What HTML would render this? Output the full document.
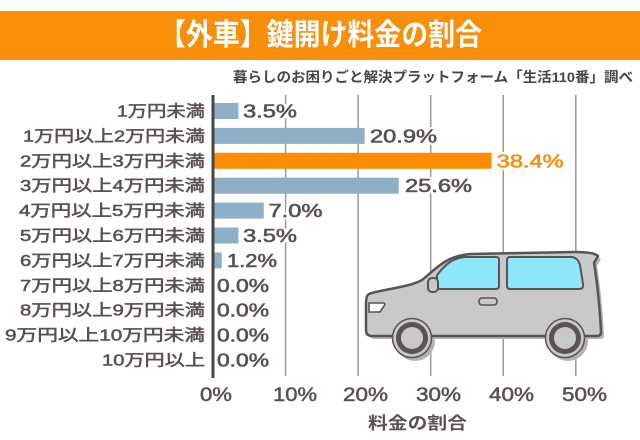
<!DOCTYPE html>
<html><head><meta charset="utf-8"><style>
html,body{margin:0;padding:0;background:#fff;}
svg{display:block;}
text{font-family:"Liberation Sans","Noto Sans CJK JP",sans-serif;}
</style></head><body>
<svg width="640" height="440" viewBox="0 0 640 440" xmlns="http://www.w3.org/2000/svg">
<rect x="0" y="0" width="640" height="440" fill="#fff"/>
<!-- title band -->
<rect x="0" y="11" width="640" height="49" fill="#F98E0A"/>
<text x="159" y="45" font-size="30" font-weight="bold" fill="#fff" textLength="323" lengthAdjust="spacingAndGlyphs">【外車】鍵開け料金の割合</text>
<text x="233" y="82" font-size="14" font-weight="bold" fill="#4a4444" textLength="400" lengthAdjust="spacingAndGlyphs">暮らしのお困りごと解決プラットフォーム「生活110番」調べ</text>

<!-- gridlines -->
<g stroke="#9a9a9a" stroke-width="1.5">
<line x1="285.6" y1="95" x2="285.6" y2="376"/>
<line x1="358.1" y1="95" x2="358.1" y2="376"/>
<line x1="430.7" y1="95" x2="430.7" y2="376"/>
<line x1="503.2" y1="95" x2="503.2" y2="376"/>
<line x1="575.8" y1="95" x2="575.8" y2="376"/>
</g>

<!-- car -->
<g>
<g transform="translate(3,3)" fill="#b3b3b3">
<path d="M372 293 C385 289 410 287 422 280 C435 270 445 256 470 254 L575 252 C585 252 595 253 598 256 L594 263 C597 280 600 310 601 332 Q601 336 597 336 L372 336 Q366 336 366 330 L366 305 C366 296 367 294 372 293 Z"/>
<circle cx="412" cy="338" r="20"/>
<circle cx="565" cy="338" r="20"/>
</g>
<path d="M372 293 C385 289 410 287 422 280 C435 270 445 256 470 254 L575 252 C585 252 595 253 598 256 L594 263 C597 280 600 310 601 332 Q601 336 597 336 L372 336 Q366 336 366 330 L366 305 C366 296 367 294 372 293 Z" fill="#c9c9c9" stroke="#5b5353" stroke-width="2.5" stroke-linejoin="round"/>
<path d="M437 275 C445 265 452 258 465 257 L496 257 Q499 257 499 260 L499 286 Q499 289 496 289 L440 289 Q437 289 437 286 Z" fill="#8ee6fb" stroke="#5b5353" stroke-width="2"/>
<path d="M510 257 L572 257 Q578 258 580 265 L583 284 Q584 289 579 289 L510 289 Q507 289 507 286 L507 260 Q507 257 510 257 Z" fill="#8ee6fb" stroke="#5b5353" stroke-width="2"/>
<rect x="428" y="278" width="10" height="14" rx="4" fill="#c9c9c9" stroke="#5b5353" stroke-width="2"/>
<rect x="479" y="298" width="18" height="7" rx="3" fill="#c9c9c9" stroke="#5b5353" stroke-width="1.6"/>
<path d="M369 303 L383 303 Q386 303 384 306 L380 312 L369 312 Z" fill="#fff" stroke="#5b5353" stroke-width="1.6"/>
<circle cx="412" cy="338" r="19.5" fill="#c9c9c9" stroke="#5b5353" stroke-width="1.5"/>
<circle cx="412" cy="338" r="16" fill="#5b5353"/>
<circle cx="412" cy="338" r="11" fill="#c9c9c9"/>
<circle cx="565" cy="338" r="19.5" fill="#c9c9c9" stroke="#5b5353" stroke-width="1.5"/>
<circle cx="565" cy="338" r="16" fill="#5b5353"/>
<circle cx="565" cy="338" r="11" fill="#c9c9c9"/>
</g>

<!-- bars -->
<g fill="#8EAFC8">
<rect x="213" y="103" width="25.4" height="16"/>
<rect x="213" y="127.9" width="151.6" height="16"/>
<rect x="213" y="177.7" width="185.7" height="16"/>
<rect x="213" y="202.6" width="50.8" height="16"/>
<rect x="213" y="227.5" width="25.4" height="16"/>
<rect x="213" y="252.4" width="8.7" height="16"/>
</g>
<rect x="213" y="152.8" width="278.6" height="16" fill="#FD8C00"/>

<!-- axis -->
<line x1="213" y1="95" x2="213" y2="378" stroke="#4a4444" stroke-width="3"/>

<!-- category labels -->
<g font-size="16" fill="#595050" stroke="#595050" stroke-width="0.5" text-anchor="end">
<text x="205" y="116.5" textLength="88" lengthAdjust="spacingAndGlyphs">1万円未満</text>
<text x="205" y="141.4" textLength="182" lengthAdjust="spacingAndGlyphs">1万円以上2万円未満</text>
<text x="205" y="166.3" textLength="185" lengthAdjust="spacingAndGlyphs">2万円以上3万円未満</text>
<text x="205" y="191.2" textLength="185" lengthAdjust="spacingAndGlyphs">3万円以上4万円未満</text>
<text x="205" y="216.1" textLength="186" lengthAdjust="spacingAndGlyphs">4万円以上5万円未満</text>
<text x="205" y="241" textLength="185" lengthAdjust="spacingAndGlyphs">5万円以上6万円未満</text>
<text x="205" y="265.9" textLength="185" lengthAdjust="spacingAndGlyphs">6万円以上7万円未満</text>
<text x="205" y="290.8" textLength="185" lengthAdjust="spacingAndGlyphs">7万円以上8万円未満</text>
<text x="205" y="315.7" textLength="185" lengthAdjust="spacingAndGlyphs">8万円以上9万円未満</text>
<text x="205" y="340.6" textLength="200" lengthAdjust="spacingAndGlyphs">9万円以上10万円未満</text>
<text x="205" y="365.5" textLength="103" lengthAdjust="spacingAndGlyphs">10万円以上</text>
</g>

<!-- value label halos -->
<g font-size="18" fill="#fff" stroke="#fff" stroke-width="5" stroke-linejoin="round">
<text x="243" y="117.5" textLength="54" lengthAdjust="spacingAndGlyphs">3.5%</text>
<text x="370" y="142.4" textLength="67" lengthAdjust="spacingAndGlyphs">20.9%</text>
<text x="496.7" y="167.3" textLength="67" lengthAdjust="spacingAndGlyphs">38.4%</text>
<text x="405" y="192.2" textLength="67" lengthAdjust="spacingAndGlyphs">25.6%</text>
<text x="268.5" y="217.1" textLength="54" lengthAdjust="spacingAndGlyphs">7.0%</text>
<text x="243" y="242" textLength="54" lengthAdjust="spacingAndGlyphs">3.5%</text>
<text x="227" y="266.9" textLength="50" lengthAdjust="spacingAndGlyphs">1.2%</text>
</g>
<!-- value labels -->
<g font-size="18" fill="#595050" stroke="#595050" stroke-width="0.6" stroke-linejoin="round">
<text x="243" y="117.5" textLength="54" lengthAdjust="spacingAndGlyphs">3.5%</text>
<text x="370" y="142.4" textLength="67" lengthAdjust="spacingAndGlyphs">20.9%</text>
<text x="496.7" y="167.3" textLength="67" lengthAdjust="spacingAndGlyphs" fill="#F98E0A" stroke="#F98E0A">38.4%</text>
<text x="405" y="192.2" textLength="67" lengthAdjust="spacingAndGlyphs">25.6%</text>
<text x="268.5" y="217.1" textLength="54" lengthAdjust="spacingAndGlyphs">7.0%</text>
<text x="243" y="242" textLength="54" lengthAdjust="spacingAndGlyphs">3.5%</text>
<text x="227" y="266.9" textLength="50" lengthAdjust="spacingAndGlyphs">1.2%</text>
<text x="217" y="291.8" textLength="52" lengthAdjust="spacingAndGlyphs">0.0%</text>
<text x="217" y="316.7" textLength="52" lengthAdjust="spacingAndGlyphs">0.0%</text>
<text x="217" y="341.6" textLength="52" lengthAdjust="spacingAndGlyphs">0.0%</text>
<text x="217" y="366.5" textLength="52" lengthAdjust="spacingAndGlyphs">0.0%</text>
</g>

<!-- tick labels -->
<g font-size="19" fill="#595050" stroke="#595050" stroke-width="0.5">
<text x="200" y="401" textLength="32" lengthAdjust="spacingAndGlyphs">0%</text>
<text x="273" y="401" textLength="44" lengthAdjust="spacingAndGlyphs">10%</text>
<text x="343" y="401" textLength="45" lengthAdjust="spacingAndGlyphs">20%</text>
<text x="416" y="401" textLength="45" lengthAdjust="spacingAndGlyphs">30%</text>
<text x="489" y="401" textLength="45" lengthAdjust="spacingAndGlyphs">40%</text>
<text x="562" y="401" textLength="45" lengthAdjust="spacingAndGlyphs">50%</text>
</g>
<text x="368" y="429" font-size="17" font-weight="bold" fill="#595050" textLength="99" lengthAdjust="spacingAndGlyphs">料金の割合</text>
</svg>
</body></html>
